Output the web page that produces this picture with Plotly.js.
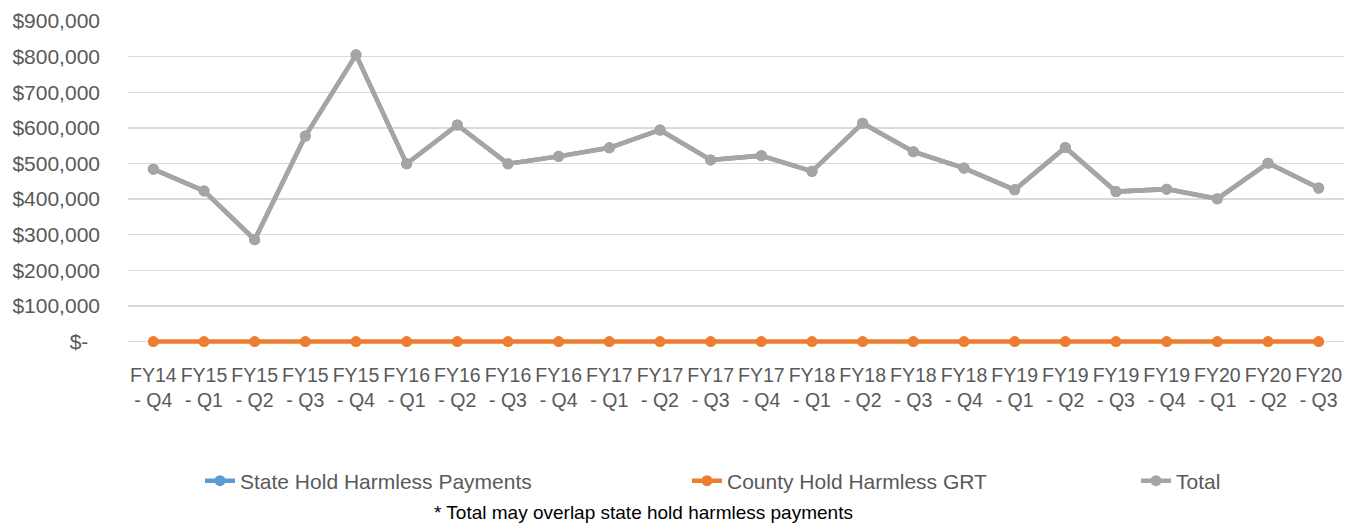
<!DOCTYPE html>
<html>
<head>
<meta charset="utf-8">
<script src="https://cdn.plot.ly/plotly-3.0.1.min.js"></script>
<style>html,body{margin:0;padding:0;background:#fff;}#chart{width:1355px;height:525px;}</style>
</head>
<body>
<div id="chart"></div>
<script>
var categories = ["FY14<br>- Q4","FY15<br>- Q1","FY15<br>- Q2","FY15<br>- Q3","FY15<br>- Q4",
  "FY16<br>- Q1","FY16<br>- Q2","FY16<br>- Q3","FY16<br>- Q4",
  "FY17<br>- Q1","FY17<br>- Q2","FY17<br>- Q3","FY17<br>- Q4",
  "FY18<br>- Q1","FY18<br>- Q2","FY18<br>- Q3","FY18<br>- Q4",
  "FY19<br>- Q1","FY19<br>- Q2","FY19<br>- Q3","FY19<br>- Q4",
  "FY20<br>- Q1","FY20<br>- Q2","FY20<br>- Q3"];
var stateHoldHarmless = [484000,423000,286000,577000,805000,499000,608000,499000,520000,544000,594000,510000,
  522000,478000,613000,533000,487000,426000,545000,421000,428000,401000,501000,431000];
var countyHoldHarmless = [0,0,0,0,0,0,0,0,0,0,0,0,0,0,0,0,0,0,0,0,0,0,0,0];
var total = [484000,423000,286000,577000,805000,499000,608000,499000,520000,544000,594000,510000,
  522000,478000,613000,533000,487000,426000,545000,421000,428000,401000,501000,431000];
var yTickVals = [0,100000,200000,300000,400000,500000,600000,700000,800000,900000];
var yTickText = ["$-\u00a0\u00a0","$100,000","$200,000","$300,000","$400,000","$500,000","$600,000","$700,000","$800,000","$900,000"];
var seriesNames = ["State Hold Harmless Payments","County Hold Harmless GRT","Total"];
var footnote = "* Total may overlap state hold harmless payments";

var FONT = "Liberation Sans, Arial, sans-serif";
var YMIN = -18000, YMAX = 900000;
var plotTop = 21, zeroPx = 342;
var pxPerUnit = (zeroPx - plotTop) / YMAX;
var bottomMargin = 525 - (zeroPx + (-YMIN) * pxPerUnit);

function mk(y, name, color, legendId){
  return {x: categories, y: y, name: name, type: 'scatter', mode: 'lines+markers',
    line: {color: color, width: 4.5}, marker: {color: color, size: 11},
    legend: legendId, hoverinfo: 'skip', cliponaxis: false};
}
var traces = [
  mk(stateHoldHarmless, seriesNames[0], '#5b9bd5', 'legend'),
  mk(countyHoldHarmless, seriesNames[1], '#ed7d31', 'legend2'),
  mk(total, seriesNames[2], '#a5a5a5', 'legend3')
];
function leg(xpx){
  return {x: xpx/1355, xref: 'container', xanchor: 'left', y: 1-481/525, yref: 'container', yanchor: 'middle',
    orientation: 'h', bgcolor: 'rgba(0,0,0,0)', font: {family: FONT, size: 21, color: '#595959'}};
}
var plotH = 525 - plotTop - bottomMargin;
var layout = {
  width: 1355, height: 525,
  margin: {l: 128, r: 11, t: plotTop, b: bottomMargin},
  paper_bgcolor: '#fff', plot_bgcolor: '#fff',
  showlegend: true,
  legend: leg(200), legend2: leg(687), legend3: leg(1136),
  xaxis: {type: 'category', range: [-0.5, 23.5], showgrid: false, zeroline: false, showline: false,
    ticks: '', tickfont: {family: FONT, size: 19.5, color: '#595959'}, tickangle: 0, ticklabelstandoff: 13, automargin: false},
  yaxis: {range: [YMIN, YMAX], tickvals: yTickVals, ticktext: yTickText, showgrid: true, gridcolor: '#d9d9d9', gridwidth: 1.3,
    zeroline: false, showline: false, ticks: '',
    tickfont: {family: FONT, size: 21, color: '#595959'}, ticklabelstandoff: 27, automargin: false},
  annotations: [{text: footnote, xref: 'paper', yref: 'paper', x: (643-128)/1216, y: (525 - bottomMargin - 513)/plotH,
    xanchor: 'center', yanchor: 'middle', showarrow: false, font: {family: FONT, size: 19, color: '#000'}}]
};
Plotly.newPlot('chart', traces, layout, {staticPlot: true, displayModeBar: false});
</script>
</body>
</html>
